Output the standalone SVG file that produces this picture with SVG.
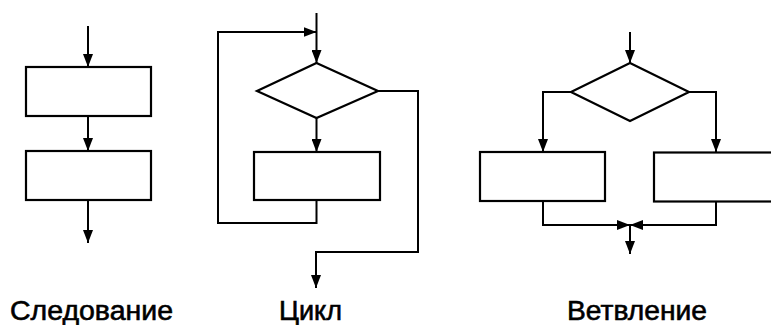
<svg xmlns="http://www.w3.org/2000/svg" width="771" height="325" viewBox="0 0 771 325">
<style>
.shape{fill:#fff;stroke:#000;stroke-width:2.2;stroke-linejoin:miter}
.line{fill:none;stroke:#000;stroke-width:2}
.arr{marker-end:url(#ah)}
.lbl{font-family:"Liberation Sans",Arial,sans-serif;font-size:27px;fill:#000;stroke:#000;stroke-width:0.6}
</style>
<defs>
<marker id="ah" markerUnits="userSpaceOnUse" markerWidth="14" markerHeight="10" refX="13" refY="5" orient="auto">
<path d="M0,0 L13,5 L0,10 z" fill="#000"/>
</marker>
</defs>
<g id="connectors">
<line class="line arr" x1="88" y1="26" x2="88" y2="67"/>
<line class="line arr" x1="88" y1="116" x2="88" y2="151"/>
<line class="line arr" x1="88" y1="200" x2="88" y2="243"/>
<line class="line arr" x1="316.5" y1="13" x2="316.5" y2="63"/>
<path class="line arr" d="M316.5,200 V223 H218 V32 H316.5"/>
<line class="line arr" x1="316.5" y1="118" x2="316.5" y2="152"/>
<path class="line arr" d="M378,91 H418 V252 H316 V288"/>
<line class="line arr" x1="630" y1="32" x2="630" y2="63"/>
<path class="line arr" d="M571,92 H543 V152"/>
<path class="line arr" d="M689,92 H716 V152"/>
<path class="line arr" d="M543,201 V225 H630"/>
<path class="line arr" d="M716,201 V225 H630"/>
<line class="line arr" x1="630" y1="225" x2="630" y2="254"/>
</g>
<g id="seq-box1"><rect class="shape" x="26" y="67" width="125" height="49"/></g>
<g id="seq-box2"><rect class="shape" x="26" y="151" width="125" height="49"/></g>
<g id="loop-cond"><polygon class="shape" points="316.5,63 378,91 316.5,118 257,91"/></g>
<g id="loop-body"><rect class="shape" x="254" y="152" width="126" height="48"/></g>
<g id="branch-cond"><polygon class="shape" points="630,63 689,92 630,121 571,92"/></g>
<g id="branch-left"><rect class="shape" x="480" y="152" width="125" height="49"/></g>
<g id="branch-right"><rect class="shape" x="654" y="152.5" width="130" height="49"/></g>
<g id="labels">
<text class="lbl" x="10" y="320" textLength="163" lengthAdjust="spacingAndGlyphs">Следование</text>
<text class="lbl" x="279" y="320" textLength="63" lengthAdjust="spacingAndGlyphs">Цикл</text>
<text class="lbl" x="567" y="320" textLength="140" lengthAdjust="spacingAndGlyphs">Ветвление</text>
</g>
</svg>
